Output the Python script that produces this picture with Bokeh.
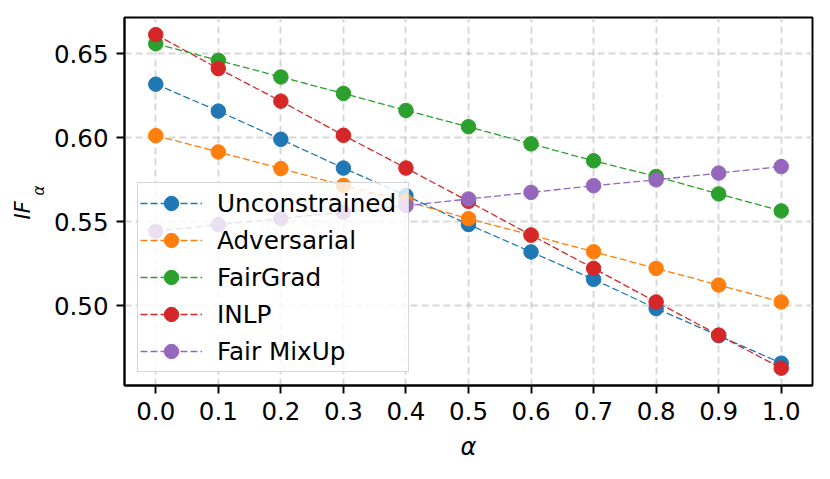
from bokeh.plotting import figure
from bokeh.models import Legend, LegendItem, Title, FixedTicker, CustomJSTickFormatter
from bokeh.embed import file_html
from bokeh.resources import INLINE

alphas = [0.0, 0.1, 0.2, 0.3, 0.4, 0.5, 0.6, 0.7, 0.8, 0.9, 1.0]
unconstrained = [0.6318, 0.6158, 0.5990, 0.5819, 0.5655, 0.5483, 0.5320, 0.5157, 0.4983, 0.4821, 0.4658]
adversarial = [0.6012, 0.5915, 0.5816, 0.5716, 0.5621, 0.5518, 0.5420, 0.5321, 0.5222, 0.5123, 0.5022]
fairgrad = [0.6559, 0.6460, 0.6361, 0.6263, 0.6162, 0.6065, 0.5963, 0.5862, 0.5769, 0.5665, 0.5564]
inlp = [0.6613, 0.6411, 0.6217, 0.6014, 0.5819, 0.5621, 0.5420, 0.5222, 0.5022, 0.4825, 0.4628]
fair_mixup = [0.5443, 0.5483, 0.5518, 0.5556, 0.5595, 0.5635, 0.5674, 0.5714, 0.5749, 0.5789, 0.5828]

series_names = ["Unconstrained", "Adversarial", "FairGrad", "INLP", "Fair MixUp"]
series_values = [unconstrained, adversarial, fairgrad, inlp, fair_mixup]
colors = ["#1f77b4", "#ff7f0e", "#2ca02c", "#d62728", "#9467bd"]

x_ticks = alphas
y_ticks = [0.50, 0.55, 0.60, 0.65]

FONT = "DejaVu Sans"

p = figure(width=814, height=463, output_backend="svg", toolbar_location=None,
           x_range=(-0.05, 1.05), y_range=(0.4525, 0.6715),
           min_border_left=124, min_border_right=2, min_border_top=17, min_border_bottom=77)
p.background_fill_color = "white"
p.border_fill_color = "white"
p.outline_line_color = "black"
p.outline_line_width = 1.9

for ax in (p.xaxis[0], p.yaxis[0]):
    ax.axis_line_color = "black"
    ax.axis_line_width = 1.9
    ax.major_tick_line_color = "black"
    ax.major_tick_line_width = 1.9
    ax.major_tick_in = 0
    ax.major_tick_out = 8
    ax.minor_tick_line_color = None
    ax.major_label_text_font = FONT
    ax.major_label_text_font_size = "24.5px"
    ax.major_label_text_color = "black"
    ax.major_label_standoff = 8

p.xaxis.ticker = FixedTicker(ticks=x_ticks)
p.yaxis.ticker = FixedTicker(ticks=y_ticks)
p.xaxis.formatter = CustomJSTickFormatter(code="return tick.toFixed(1);")
p.yaxis.formatter = CustomJSTickFormatter(code="return tick.toFixed(2);")
p.yaxis.axis_label_standoff = 0

p.xaxis.axis_label = "α"
p.xaxis.axis_label_text_font = FONT
p.xaxis.axis_label_text_font_size = "24px"
p.xaxis.axis_label_text_font_style = "italic"
p.xaxis.axis_label_text_color = "black"
p.xaxis.axis_label_standoff = 10

for g in (p.xgrid[0], p.ygrid[0]):
    g.grid_line_color = "#b0b0b0"
    g.grid_line_alpha = 0.5
    g.grid_line_width = 1.9
    g.grid_line_dash = "7 4"

items = []
for name, vals, c in zip(series_names, series_values, colors):
    ln = p.line(alphas, vals, line_color=c, line_width=1.3, line_dash="7 3")
    sc = p.scatter(alphas, vals, marker="circle", size=14.5, fill_color=c, line_color=c)
    items.append(LegendItem(label=name, renderers=[ln, sc]))

legend = Legend(items=items, location="bottom_left")
legend.margin = 13
legend.padding = 2
legend.spacing = 1
legend.glyph_width = 62
legend.glyph_height = 36
legend.label_height = 36
legend.label_width = 189
legend.label_standoff = 15
legend.label_text_font = FONT
legend.label_text_font_size = "24.7px"
legend.label_text_color = "black"
legend.label_text_baseline = "middle"
legend.background_fill_color = "white"
legend.background_fill_alpha = 0.8
legend.border_line_color = "#cccccc"
legend.border_line_width = 1.9
legend.border_line_alpha = 0.8
p.add_layout(legend, "center")

# y axis label IF_alpha : subscript placed nearer the axis, main text outside it
p.add_layout(Title(text="α", align="left", offset=190, standoff=6,
                   text_font=FONT, text_font_style="italic", text_font_size="15px",
                   text_color="black"), "left")
p.add_layout(Title(text="IF", align="left", offset=166, standoff=-20,
                   text_font=FONT, text_font_style="italic", text_font_size="21px",
                   text_color="black"), "left")

open("out.html", "w").write(file_html(p, INLINE))
